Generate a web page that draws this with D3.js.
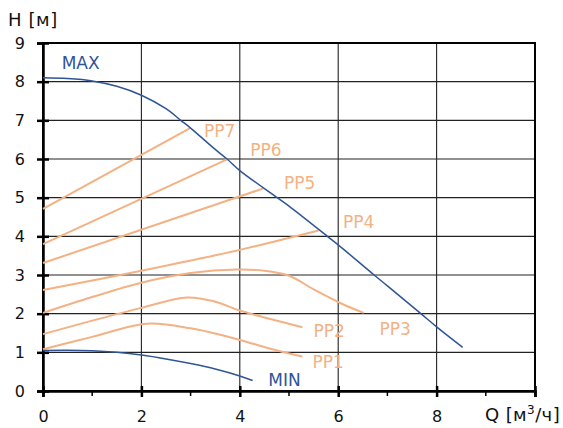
<!DOCTYPE html>
<html><head><meta charset="utf-8">
<script src="https://cdn.jsdelivr.net/npm/d3@7"></script>
<style>
html,body{margin:0;padding:0;background:#fff;}
svg{display:block;font-family:"DejaVu Sans",Verdana,sans-serif;}
</style></head>
<body>
<svg id="chart" width="563" height="428"></svg>
<script>
// ---- data (Q in m3/h, H in m) ----
const xTicks = [0, 2, 4, 6, 8];
const xMinorTicks = [1, 3, 5, 7, 9];
const yTicks = [0, 1, 2, 3, 4, 5, 6, 7, 8, 9];

const maxCurve = [[0,8.1],[0.5,8.08],[1,8.02],[1.5,7.88],[2,7.65],[2.5,7.3],[2.8,7.0],[3,6.8],[3.5,6.25],[3.74,6.0],[4,5.7],[4.76,5.0],[5,4.78],[5.78,4.0],[6,3.78],[6.73,3.0],[7,2.72],[7.68,2.0],[8,1.66],[8.53,1.13]];
const minCurve = [[0,1.05],[0.5,1.055],[1,1.04],[1.5,1.0],[2,0.93],[2.5,0.83],[3,0.71],[3.5,0.57],[4,0.39],[4.26,0.27]];

const pp7 = [[0,4.71],[2.99,6.8]];
const pp6 = [[0,3.8],[3.74,5.99]];
const pp5 = [[0,3.31],[4.48,5.24]];
const pp4 = [[0,2.61],[2,3.11],[4,3.65],[5.6,4.15]];
const pp3 = [[0,2.02],[1,2.43],[2,2.8],[3,3.05],[3.94,3.14],[4.5,3.11],[5.0,2.98],[5.5,2.63],[6.05,2.27],[6.52,2.02]];
const pp2 = [[0,1.47],[1,1.82],[2,2.15],[2.93,2.42],[3.5,2.31],[4,2.08],[4.6,1.87],[5.27,1.65]];
const pp1 = [[0,1.08],[1,1.40],[2.11,1.74],[3,1.62],[4,1.32],[4.6,1.1],[5.27,0.89]];

const orangeSeries = [pp7, pp6, pp5, pp4, pp3, pp2, pp1];
const seriesLabels = ["PP7","PP6","PP5","PP4","PP3","PP2","PP1","MAX","MIN"];
const labelAnchors = [[3.27,6.58],[4.21,6.08],[4.9,5.22],[6.1,4.21],[6.84,1.45],[5.5,1.39],[5.48,0.59],[0.38,8.33],[4.58,0.13]];

const blue = "#2f5597";
const orange = "#f4b183";

const svg = d3.select("#chart");
const x = d3.scaleLinear().domain([0, 10]).range([43, 535]);
const y = d3.scaleLinear().domain([0, 9]).range([391, 43]);

// gridlines
const grid = svg.append("g");
grid.selectAll("line.v").data(xTicks.slice(1)).join("line")
  .attr("x1", d => x(d)).attr("x2", d => x(d)).attr("y1", y(0)).attr("y2", y(9))
  .attr("stroke", "#222").attr("stroke-width", 1.1);
grid.selectAll("line.h").data(yTicks.slice(1, -1)).join("line")
  .attr("x1", x(0)).attr("x2", x(10)).attr("y1", d => y(d)).attr("y2", d => y(d))
  .attr("stroke", "#222").attr("stroke-width", 1.1);

// frame
svg.append("rect").attr("x", x(0)).attr("y", y(9))
  .attr("width", x(10) - x(0)).attr("height", y(0) - y(9))
  .attr("fill", "none").attr("stroke", "#000").attr("stroke-width", 2);

// axes
const yAxis = svg.append("g").attr("transform", `translate(${x(0)},0)`)
  .call(d3.axisLeft(y).tickValues(yTicks).tickSize(6).tickPadding(12).tickFormat(d3.format("d")));
yAxis.select(".domain").attr("stroke-width", 2.5);
yAxis.selectAll(".tick line").attr("x1", -6).attr("x2", 6).attr("stroke-width", 2.5);
yAxis.selectAll(".tick text").attr("font-size", 16).attr("fill", "#111")
  .attr("font-family", "DejaVu Sans, Verdana, sans-serif");

const xAxis = svg.append("g").attr("transform", `translate(0,${y(0)})`)
  .call(d3.axisBottom(x).tickValues(xTicks.concat([10])).tickSize(6).tickPadding(14)
    .tickFormat(d => d === 10 ? "" : d3.format("d")(d)));
xAxis.select(".domain").attr("stroke-width", 2.5);
xAxis.selectAll(".tick line").attr("y1", -5).attr("y2", 6).attr("stroke-width", 2.5);
xAxis.selectAll(".tick text").attr("font-size", 16).attr("fill", "#111")
  .attr("font-family", "DejaVu Sans, Verdana, sans-serif");

svg.append("g").selectAll("line").data(xMinorTicks).join("line")
  .attr("x1", d => x(d)).attr("x2", d => x(d)).attr("y1", y(0)).attr("y2", y(0) + 5)
  .attr("stroke", "#000").attr("stroke-width", 1.5);

// axis titles
svg.append("text").attr("x", 8).attr("y", 26).attr("font-size", 18).attr("letter-spacing", 0.6)
  .attr("fill", "#111").text("H [м]");
const qt = svg.append("text").attr("x", 485).attr("y", 421).attr("font-size", 18)
  .attr("letter-spacing", 0.4).attr("fill", "#111");
qt.append("tspan").text("Q [м");
qt.append("tspan").attr("font-size", 12).attr("dy", -7).text("3");
qt.append("tspan").attr("dy", 7).text("/ч]");

// curves
const line = d3.line().x(d => x(d[0])).y(d => y(d[1])).curve(d3.curveCatmullRom.alpha(0.5));
svg.append("g").selectAll("path").data(orangeSeries).join("path")
  .attr("d", line).attr("fill", "none").attr("stroke", orange).attr("stroke-width", 2);
svg.append("path").datum(maxCurve).attr("d", line).attr("fill", "none").attr("stroke", blue).attr("stroke-width", 1.5);
svg.append("path").datum(minCurve).attr("d", line).attr("fill", "none").attr("stroke", blue).attr("stroke-width", 1.5);

// labels
svg.append("g").selectAll("text").data(seriesLabels).join("text")
  .attr("x", (d, i) => x(labelAnchors[i][0])).attr("y", (d, i) => y(labelAnchors[i][1]))
  .attr("font-size", 17).attr("fill", (d, i) => i >= 7 ? blue : orange).text(d => d);
</script>
</body></html>
